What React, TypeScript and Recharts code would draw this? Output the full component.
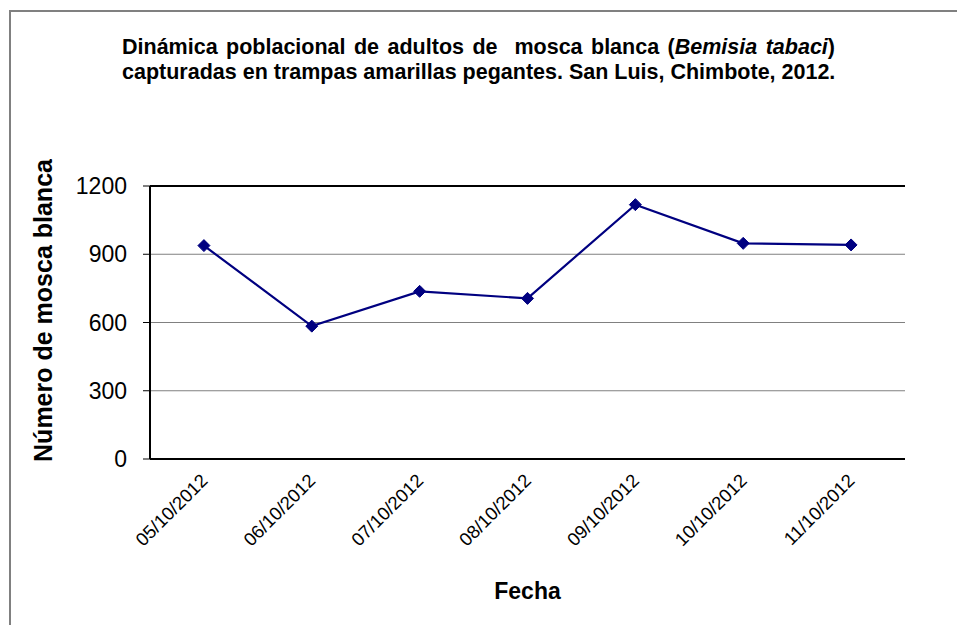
import React from 'react';
import {
  LineChart,
  Line,
  XAxis,
  YAxis,
  CartesianGrid,
  ReferenceLine,
} from 'recharts';

const fechas = ['05/10/2012', '06/10/2012', '07/10/2012', '08/10/2012', '09/10/2012', '10/10/2012', '11/10/2012'];
const moscas = [938, 584, 737, 706, 1118, 948, 941];
const yTicks = [0, 300, 600, 900, 1200];
const edgeTicks = fechas.map((_, i) => i).concat(fechas.length);

const data = fechas.map((fecha, i) => ({ fecha, moscas: moscas[i] }));

const FONT = '"Liberation Sans", Arial, sans-serif';

const Diamond = (props: any) => {
  const { cx, cy } = props;
  if (cx == null || cy == null) return null;
  const r = 6;
  return (
    <polygon
      points={`${cx},${cy - r} ${cx + r},${cy} ${cx},${cy + r} ${cx - r},${cy}`}
      fill="#000080"
      stroke="#000080"
    />
  );
};

const FechaTick = (props: any) => {
  const { x, y, payload } = props;
  return (
    <g transform={`translate(${x + 2},${y + 6})`}>
      <text
        x={0}
        y={0}
        dy={4}
        textAnchor="end"
        transform="rotate(-45)"
        fontFamily={FONT}
        fontSize={18.5}
        fill="#000"
      >
        {payload.value}
      </text>
    </g>
  );
};

const YTitle = (props: any) => {
  const { viewBox } = props;
  const cx = viewBox.x + 52;
  const cy = viewBox.y + viewBox.height / 2 - 12;
  return (
    <text
      x={cx}
      y={cy}
      transform={`rotate(-90, ${cx}, ${cy})`}
      textAnchor="middle"
      fontFamily={FONT}
      fontSize={25}
      fontWeight="bold"
      fill="#000"
    >
      Número de mosca blanca
    </text>
  );
};

const App: React.FC = () => {
  return (
    <div style={{ position: 'absolute', left: 0, top: 0, width: 957, height: 625, background: '#fff', overflow: 'hidden' }}>
      <div
        style={{
          position: 'absolute',
          left: 9,
          top: 10,
          width: 1000,
          height: 700,
          borderLeft: '2px solid #808080',
          borderTop: '2px solid #808080',
        }}
      />
      <div
        style={{
          position: 'absolute',
          left: 122,
          top: 35,
          width: 713,
          fontFamily: FONT,
          fontWeight: 'bold',
          fontSize: 21.5,
          lineHeight: '25px',
          color: '#000',
        }}
      >
        <div style={{ textAlign: 'justify', textAlignLast: 'justify', whiteSpace: 'pre-wrap' }}>
          Dinámica poblacional de adultos de  mosca blanca (<i>Bemisia tabaci</i>)
        </div>
        <div style={{ whiteSpace: 'nowrap' }}>capturadas en trampas amarillas pegantes. San Luis, Chimbote, 2012.</div>
      </div>
      <div style={{ position: 'absolute', left: 0, top: 0 }}>
        <LineChart width={957} height={625} data={data} margin={{ top: 186, right: 52, bottom: 0, left: 0 }}>
          <CartesianGrid horizontal vertical={false} stroke="#808080" strokeWidth={1.2} />
          <XAxis
            xAxisId="edges"
            type="number"
            domain={[0, fechas.length]}
            ticks={edgeTicks}
            tick={false}
            axisLine={false}
            tickSize={6}
            tickLine={{ stroke: '#000', strokeWidth: 1 }}
            height={0}
          />
          <XAxis
            dataKey="fecha"
            scale="band"
            height={166}
            tickLine={false}
            axisLine={{ stroke: '#000', strokeWidth: 2 }}
            tick={<FechaTick />}
            interval={0}
            tickMargin={8}
            label={{ value: 'Fecha', position: 'insideBottom', offset: 26, fontFamily: FONT, fontSize: 23, fontWeight: 'bold', fill: '#000' }}
          />
          <YAxis
            width={150}
            domain={[0, 1200]}
            ticks={yTicks}
            interval={0}
            tickSize={7}
            tickMargin={16}
            tickLine={{ stroke: '#000', strokeWidth: 1 }}
            axisLine={{ stroke: '#000', strokeWidth: 2 }}
            tick={{ fontFamily: FONT, fontSize: 23, fill: '#000' }}
            label={<YTitle />}
          />
          <YAxis
            yAxisId="right"
            orientation="right"
            width={0}
            domain={[0, 1200]}
            tick={false}
            tickLine={false}
            axisLine={{ stroke: '#000', strokeWidth: 2 }}
          />
          <ReferenceLine y={1200} stroke="#000" strokeWidth={2} />
          <Line
            type="linear"
            dataKey="moscas"
            stroke="#000080"
            strokeWidth={2.2}
            dot={<Diamond />}
            activeDot={false}
            isAnimationActive={false}
          />
        </LineChart>
      </div>
    </div>
  );
};

export default App;
